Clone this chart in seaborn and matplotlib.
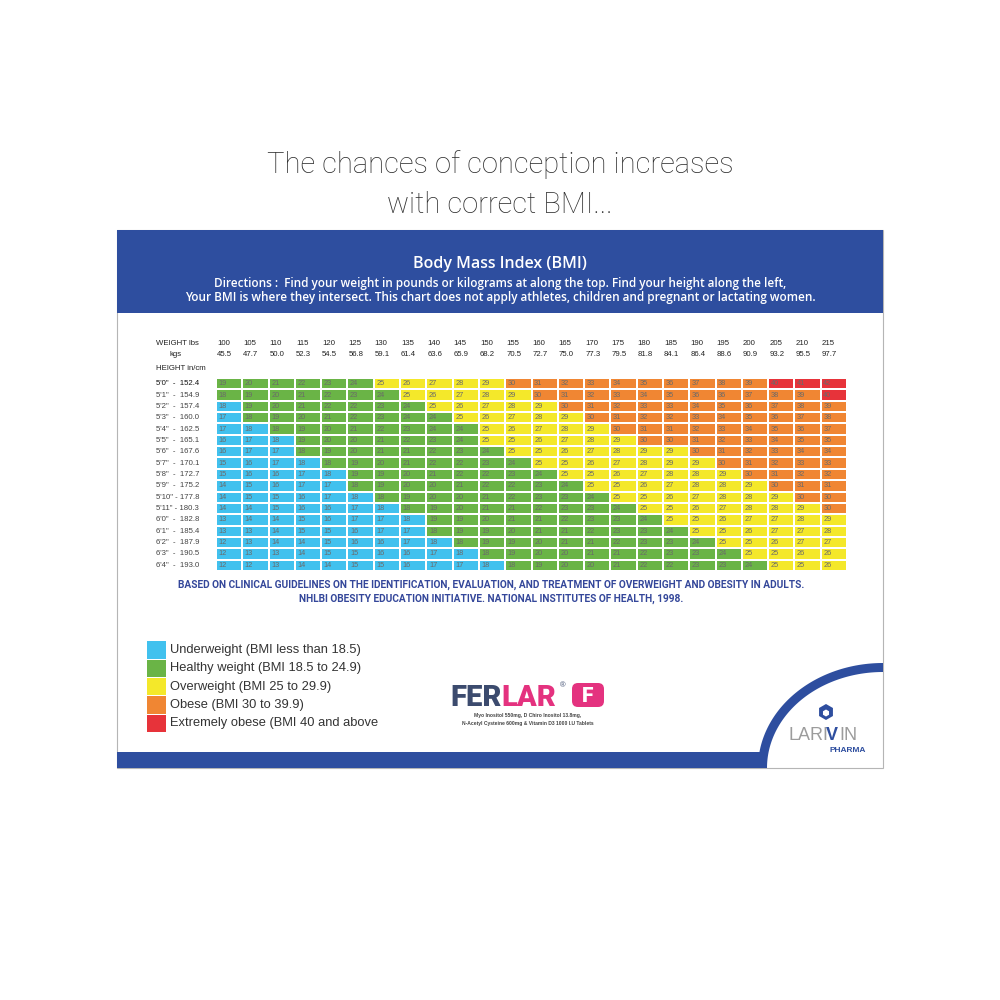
import numpy as np
import matplotlib
matplotlib.use("Agg")
import matplotlib.pyplot as plt
import seaborn as sns
from matplotlib.colors import ListedColormap
from matplotlib.patches import Rectangle, Polygon, FancyBboxPatch, RegularPolygon

# weights along the top
weights_lbs = [100, 105, 110, 115, 120, 125, 130, 135, 140, 145, 150, 155,
               160, 165, 170, 175, 180, 185, 190, 195, 200, 205, 210, 215]
weights_kg = ["45.5", "47.7", "50.0", "52.3", "54.5", "56.8", "59.1", "61.4",
              "63.6", "65.9", "68.2", "70.5", "72.7", "75.0", "77.3", "79.5",
              "81.8", "84.1", "86.4", "88.6", "90.9", "93.2", "95.5", "97.7"]

# heights down the left
heights = ["5'0\"  -  152.4", "5'1\"  -  154.9", "5'2\"  -  157.4", "5'3\"  -  160.0",
           "5'4\"  -  162.5", "5'5\"  -  165.1", "5'6\"  -  167.6", "5'7\"  -  170.1",
           "5'8\"  -  172.7", "5'9\"  -  175.2", "5'10\" - 177.8", "5'11\" - 180.3",
           "6'0\"  -  182.8", "6'1\"  -  185.4", "6'2\"  -  187.9", "6'3\"  -  190.5",
           "6'4\"  -  193.0"]

# printed BMI values, one list per height
bmi_rows = [
    [19, 20, 21, 22, 23, 24, 25, 26, 27, 28, 29, 30, 31, 32, 33, 34, 35, 36, 37, 38, 39, 40, 41, 42],
    [18, 19, 20, 21, 22, 23, 24, 25, 26, 27, 28, 29, 30, 31, 32, 33, 34, 35, 36, 36, 37, 38, 39, 40],
    [18, 19, 20, 21, 22, 22, 23, 24, 25, 26, 27, 28, 29, 30, 31, 32, 33, 33, 34, 35, 36, 37, 38, 39],
    [17, 18, 19, 20, 21, 22, 23, 24, 24, 25, 26, 27, 28, 29, 30, 31, 32, 32, 33, 34, 35, 36, 37, 38],
    [17, 18, 18, 19, 20, 21, 22, 23, 24, 24, 25, 26, 27, 28, 29, 30, 31, 31, 32, 33, 34, 35, 36, 37],
    [16, 17, 18, 19, 20, 20, 21, 22, 23, 24, 25, 25, 26, 27, 28, 29, 30, 30, 31, 32, 33, 34, 35, 35],
    [16, 17, 17, 18, 19, 20, 21, 21, 22, 23, 24, 25, 25, 26, 27, 28, 29, 29, 30, 31, 32, 33, 34, 34],
    [15, 16, 17, 18, 18, 19, 20, 21, 22, 22, 23, 24, 25, 25, 26, 27, 28, 29, 29, 30, 31, 32, 33, 33],
    [15, 16, 16, 17, 18, 19, 19, 20, 21, 22, 22, 23, 24, 25, 25, 26, 27, 28, 28, 29, 30, 31, 32, 32],
    [14, 15, 16, 17, 17, 18, 19, 20, 20, 21, 22, 22, 23, 24, 25, 25, 26, 27, 28, 28, 29, 30, 31, 31],
    [14, 15, 15, 16, 17, 18, 18, 19, 20, 20, 21, 22, 23, 23, 24, 25, 25, 26, 27, 28, 28, 29, 30, 30],
    [14, 14, 15, 16, 16, 17, 18, 18, 19, 20, 21, 21, 22, 23, 23, 24, 25, 25, 26, 27, 28, 28, 29, 30],
    [13, 14, 14, 15, 16, 17, 17, 18, 19, 19, 20, 21, 21, 22, 23, 23, 24, 25, 25, 26, 27, 27, 28, 29],
    [13, 13, 14, 15, 15, 16, 17, 17, 18, 19, 19, 20, 21, 21, 22, 23, 23, 24, 25, 25, 26, 27, 27, 28],
    [12, 13, 14, 14, 15, 16, 16, 17, 18, 18, 19, 19, 20, 21, 21, 22, 23, 23, 24, 25, 25, 26, 27, 27],
    [12, 13, 13, 14, 15, 15, 16, 16, 17, 18, 18, 19, 20, 20, 21, 21, 22, 23, 23, 24, 25, 25, 26, 26],
    [12, 12, 13, 14, 14, 15, 15, 16, 17, 17, 18, 18, 19, 20, 20, 21, 22, 22, 23, 23, 24, 25, 25, 26],
]

# column where each colour band starts in each row (green, yellow, orange, red)
green_start = [0, 0, 1, 1, 2, 3, 3, 4, 5, 5, 6, 7, 8, 8, 9, 10, 11]
yellow_start = [6, 7, 8, 9, 10, 10, 11, 12, 13, 14, 15, 16, 17, 18, 19, 20, 21]
orange_start = [11, 12, 13, 14, 15, 16, 18, 19, 20, 21, 22, 23, 24, 24, 24, 24, 24]
red_start = [21, 23, 24, 24, 24, 24, 24, 24, 24, 24, 24, 24, 24, 24, 24, 24, 24]

legend_labels = ["Underweight (BMI less than 18.5)",
                 "Healthy weight (BMI 18.5 to 24.9)",
                 "Overweight (BMI 25 to 29.9)",
                 "Obese (BMI 30 to 39.9)",
                 "Extremely obese (BMI 40 and above"]
band_colors = ["#41C1EE", "#6AB446", "#F4E82A", "#F08633", "#E7333A"]
navy = "#2E4E9F"

values = np.array(bmi_rows)
cols = np.arange(len(weights_lbs))
cats = np.zeros_like(values)
for i in range(len(heights)):
    cats[i] = ((cols >= green_start[i]).astype(int) + (cols >= yellow_start[i])
               + (cols >= orange_start[i]) + (cols >= red_start[i]))

sns.set_theme(style="white")
plt.rcParams['font.family'] = ['Liberation Sans', 'DejaVu Sans']

fig = plt.figure(figsize=(10, 10), dpi=100)
fig.patch.set_facecolor("white")

# decoration layer in pixel coordinates
deco = fig.add_axes([0, 0, 1, 1])
deco.set_xlim(0, 1000)
deco.set_ylim(1000, 0)
deco.axis("off")

deco.text(500, 165, "The chances of conception increases", ha="center", va="center",
          fontsize=21, family="Roboto", fontweight="light", color="#2e2e2e")
deco.text(500, 205, "with correct BMI...", ha="center", va="center",
          fontsize=21, family="Roboto", fontweight="light", color="#2e2e2e")

deco.add_patch(Rectangle((117, 230), 766, 538, facecolor="white", edgecolor="#b5b5b5", lw=0.8))
deco.add_patch(Rectangle((117, 230), 766, 83, facecolor=navy, edgecolor="none"))
deco.text(500, 264, "Body Mass Index (BMI)", ha="center", va="center", fontsize=11.5,
          family="Open Sans", fontweight="semibold", color="white")
deco.text(500, 283, "Directions :  Find your weight in pounds or kilograms at along the top. "
          "Find your height along the left,", ha="center", va="center", fontsize=8.5,
          family="Open Sans", fontweight="semibold", color="white")
deco.text(500, 298, "Your BMI is where they intersect. This chart does not apply athletes, "
          "children and pregnant or lactating women.", ha="center", va="center", fontsize=8.5,
          family="Open Sans", fontweight="semibold", color="white")

deco.text(491, 585, "BASED ON CLINICAL GUIDELINES ON THE IDENTIFICATION, EVALUATION, AND TREATMENT "
          "OF OVERWEIGHT AND OBESITY IN ADULTS.", ha="center", va="center", fontsize=7.3,
          family="Roboto", fontweight="bold", color="#34479A")
deco.text(491, 599, "NHLBI OBESITY EDUCATION INITIATIVE. NATIONAL INSTITUTES OF HEALTH, 1998.",
          ha="center", va="center", fontsize=7.3, family="Roboto", fontweight="bold",
          color="#34479A")

# legend
for k, (lab, c) in enumerate(zip(legend_labels, band_colors)):
    yc = 650 + k * 18.3
    deco.add_patch(Rectangle((147, yc - 8.6), 19, 17.2, facecolor=c, edgecolor="none"))
    deco.text(170, yc, lab, ha="left", va="center", fontsize=9.3, color="#333333")

# bottom band and swoosh
deco.add_patch(Rectangle((117, 752), 650, 16, facecolor=navy, edgecolor="none"))
t = np.linspace(0, np.pi / 2, 80)
outer = np.column_stack([883 - 125 * np.cos(t), 768 - 105 * np.sin(t)])
inner = np.column_stack([883 - 116 * np.cos(t), 768 - 96 * np.sin(t)])
deco.add_patch(Polygon(np.vstack([outer, inner[::-1]]), closed=True, facecolor=navy,
                       edgecolor="none"))

# FERLAR logo
deco.text(450, 706, "FER", ha="left", va="baseline", fontsize=21, family="Roboto",
          fontweight="black", color="#3C4B6E")
deco.text(501, 706, "LAR", ha="left", va="baseline", fontsize=21, family="Roboto",
          fontweight="black", color="#E4327F")
deco.text(563, 686, "®", ha="center", va="center", fontsize=5.5, color="#3C4B6E")
deco.add_patch(FancyBboxPatch((572, 683), 32, 24, boxstyle="round,pad=0,rounding_size=6",
                              facecolor="#E4327F", edgecolor="none"))
deco.text(588, 696, "F", ha="center", va="center", fontsize=15, family="Roboto",
          fontweight="black", color="white")
deco.text(528, 716, "Myo Inositol 550mg, D Chiro Inositol 13.8mg,", ha="center", va="center",
          fontsize=3.6, fontweight="bold", color="#444444")
deco.text(528, 723, "N-Acetyl Cysteine 600mg & Vitamin D3 1000 I.U Tablets", ha="center",
          va="center", fontsize=3.6, fontweight="bold", color="#444444")

# LARIVIN logo
deco.add_patch(RegularPolygon((826, 712), 6, radius=8, facecolor=navy, edgecolor="none"))
deco.add_patch(RegularPolygon((826, 713), 6, radius=3.5, facecolor="white", edgecolor="none"))
deco.text(788, 735, "LARI", ha="left", va="center", fontsize=13, color="#9C9C9C")
deco.text(826, 735, "V", ha="left", va="center", fontsize=13, fontweight="bold", color=navy)
deco.text(839, 735, "IN", ha="left", va="center", fontsize=13, color="#9C9C9C")
deco.text(866, 750, "PHARMA", ha="right", va="center", fontsize=6, fontweight="bold", color=navy)

# the BMI grid
ax = fig.add_axes([0.216, 0.429, 0.631, 0.193])
sns.heatmap(cats, annot=values, fmt="d", cmap=ListedColormap(band_colors), vmin=-0.5, vmax=4.5,
            cbar=False, linewidths=1.4, linecolor="white", xticklabels=False, yticklabels=False,
            annot_kws={"fontsize": 5.3, "color": "#6a6a6a"}, ax=ax)
for txt in ax.texts:
    x, y = txt.get_position()
    txt.set_position((x - 0.4, y))
    txt.set_ha("left")

for j in cols:
    ax.text(j + 0.04, -3.0, str(weights_lbs[j]), ha="left", va="center", fontsize=5.6,
            color="#222222", clip_on=False)
    ax.text(j + 0.04, -2.03, weights_kg[j], ha="left", va="center", fontsize=5.6,
            color="#222222", clip_on=False)
ax.text(-2.3, -3.0, "WEIGHT lbs", ha="left", va="center", fontsize=5.6, color="#222222", clip_on=False)
ax.text(-1.55, -2.03, "kgs", ha="center", va="center", fontsize=5.6, color="#222222", clip_on=False)
ax.text(-2.3, -0.8, "HEIGHT in/cm", ha="left", va="center", fontsize=5.6, color="#222222", clip_on=False)
for i, lab in enumerate(heights):
    ax.text(-2.3, i + 0.5, lab, ha="left", va="center", fontsize=5.6,
            color="#111111" if i == 0 else "#444444", clip_on=False)
ax.set_xlabel("")
ax.set_ylabel("")

fig.savefig("out.png", dpi=100, facecolor="white")
